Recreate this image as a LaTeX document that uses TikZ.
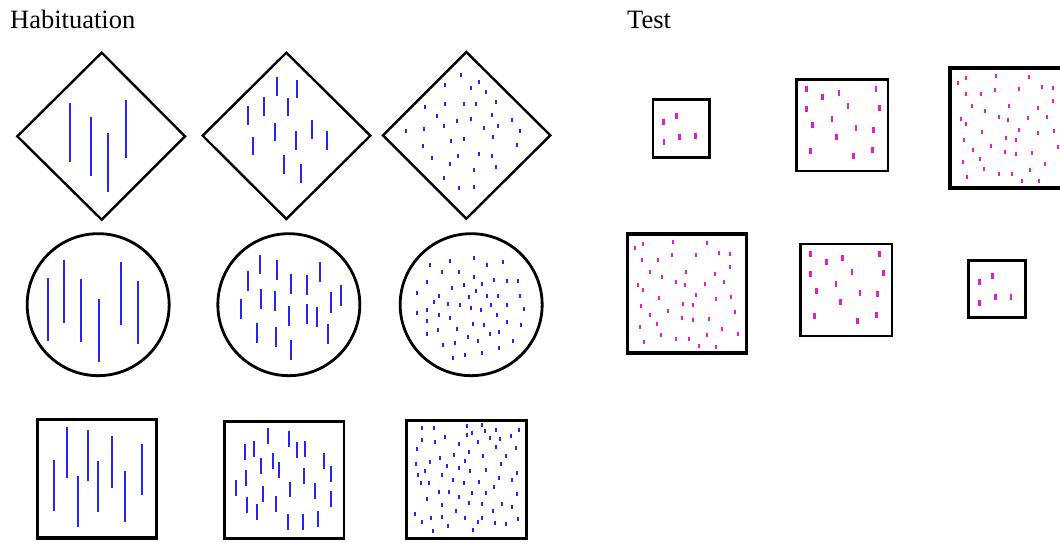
\documentclass[tikz,border=0pt]{standalone}
\usepackage{fontspec}
\setmainfont{Liberation Serif}
\definecolor{hblue}{RGB}{35,35,250}
\definecolor{tmag}{RGB}{225,30,205}
\begin{document}
\begin{tikzpicture}[x=1pt,y=-1pt,
  frame/.style={draw=black,line width=2.4pt,line join=miter},
  hl/.style={draw=hblue,line width=2.1pt},
  hd/.style={draw=hblue,line width=2.3pt},
  tmb/.style={draw=tmag,line width=2.8pt},
  tms/.style={draw=tmag,line width=2pt},
  zoomed/.style={x=0.33333pt,y=-0.33333pt}]
\useasboundingbox (0,0) rectangle (1060,541);
\clip (0,0) rectangle (1060,541);
\fill[white] (0,0) rectangle (1060,541);
\node[anchor=base west,inner sep=0pt,font=\fontsize{26.5}{30}\selectfont] (hab) at (10,28) {Habituation};
\node[anchor=base west,inner sep=0pt,font=\fontsize{26.5}{30}\selectfont] (tst) at (627,28) {Test};
% ---------- Diamond 1
\begin{scope}[shift={(10,48)},zoomed]
\draw[frame] (275,14) -- (525,265) -- (275,515) -- (22,265) -- cycle;
\foreach \x/\a/\b in {180/165/343,243/208/385,293/256/433,347/155/331}
  \draw[hl] (\x,\a) -- (\x,\b);
\end{scope}
% ---------- Diamond 2
\begin{scope}[shift={(198,48)},zoomed]
\draw[frame] (265,14) -- (517,263) -- (265,513) -- (14,263) -- cycle;
\foreach \x/\a/\b in {237/88/143,297/95/150,198/148/203,270/150/205,150/175/230,231/225/280,341/217/272,293/250/305,388/250/305,165/266/322,258/322/378,310/348/404}
  \draw[hl] (\x,\a) -- (\x,\b);
\end{scope}
% ---------- Diamond 3
\begin{scope}[shift={(378,48)},zoomed]
\draw[frame] (265,12) -- (517,262) -- (265,512) -- (15,262) -- cycle;
\foreach \x/\y in {248/82,202/110,303/102,278/121,324/133,141/178,200/169,258/169,294/168,354/163,176/204,237/219,280/213,342/202,401/217,83/249,139/243,199/234,318/239,361/235,427/250,218/278,259/273,345/268,135/293,418/290,163/331,241/325,303/318,342/323,216/348,289/366,355/357,199/391,243/420,289/417}
  \draw[hd] (\x,\y-6) -- (\x,\y+6);
\end{scope}
% ---------- Circle 1
\begin{scope}[shift={(22,228)},zoomed]
\draw[frame,line width=2.8pt] (228.5,230) circle[radius=71pt];
\foreach \x/\a/\b in {77/150/340,125/95/284,177/153/343,230/213/401,298/101/291,349/159/349}
  \draw[hl] (\x,\a) -- (\x,\b);
\end{scope}
% ---------- Circle 2
\begin{scope}[shift={(212,228)},zoomed]
\draw[frame,line width=2.8pt] (230.5,230) circle[radius=71pt];
\foreach \x/\a/\b in {145/80/138,195/97/157,108/128/188,238/138/198,284/140/200,323/101/162,148/182/243,190/190/250,387/172/233,358/193/254,86/214/274,232/235/295,285/227/287,315/238/298,135/285/345,191/297/357,348/289/349,238/336/396}
  \draw[hl] (\x,\a) -- (\x,\b);
\end{scope}
% ---------- Circle 3
\begin{scope}[shift={(395,228)},zoomed]
\draw[frame,line width=2.8pt] (228.5,230) circle[radius=71pt];
\foreach \x/\y in {106/111,166/98,238/89,276/110,323/103,140/133,191/131,96/162,238/147,296/157,335/160,369/160,171/180,208/170,262/169,65/194,242/190,132/204,222/207,275/205,308/205,376/204,116/221,159/229,196/231,289/230,336/230,65/254,96/247,229/241,257/246,388/244,133/260,166/271,305/262,96/278,234/287,268/290,335/282,379/290,130/307,187/304,313/311,95/318,218/327,285/319,355/340,145/352,179/345,250/339,311/360,209/380,260/375,174/391}
  \draw[hd] (\x,\y-6) -- (\x,\y+6);
\end{scope}
% ---------- Square 1
\begin{scope}[shift={(28,412)},zoomed]
\draw[frame,line width=3.2pt] (28,22) rectangle (385,378);
\foreach \x/\a/\b in {78/145/298,117/45/198,151/192/345,181/54/208,210/148/301,253/73/227,292/178/331,342/95/248}
  \draw[hl] (\x,\a) -- (\x,\b);
\end{scope}
% ---------- Square 2
\begin{scope}[shift={(218,412)},zoomed]
\draw[frame,line width=2.8pt] (20,28) rectangle (378,380);
\foreach \x/\a/\b in {150/49/97,213/56/104,82/97/145,107/88/136,238/89/137,262/87/135,129/137/185,165/123/170,183/151/198,319/124/172,338/162/210,85/173/221,258/169/217,53/203/251,134/222/270,216/209/256,290/214/262,338/238/286,87/255/302,117/277/324,175/253/300,210/307/354,256/307/354,300/297/345}
  \draw[hl] (\x,\a) -- (\x,\b);
\end{scope}
% ---------- Square 3
\begin{scope}[shift={(400,412)},zoomed]
\draw[frame,line width=3.2pt] (20,25) rectangle (380,380);
\foreach \x/\y in {65/49,102/47,200/43,245/40,256/57,289/54,357/53,66/83,135/74,104/89,201/69,217/64,270/79,300/81,334/71,235/90,178/96,52/111,288/105,347/108,208/120,162/129,120/137,250/131,317/132,48/155,91/151,196/146,142/161,303/156,76/176,54/188,127/188,178/169,211/178,257/174,351/182,62/213,88/214,160/204,191/212,236/209,298/199,337/205,283/224,117/240,148/240,215/242,259/243,350/245,82/261,176/256,208/273,245/277,305/277,127/279,167/297,279/297,337/285,44/305,92/318,127/314,195/318,247/318,354/322,67/330,235/330,285/334,319/336,143/341,98/358,218/355}
  \draw[hd] (\x,\y-6) -- (\x,\y+6);
\end{scope}
% ---------- Test, top row
\begin{scope}[shift={(645,62)},zoomed]
\draw[frame,line width=2.8pt] (24,113) rectangle (194,286);
\foreach \x/\y in {56/180,95/162,57/241,104/224,152/223}
  \draw[tmb] (\x,\y-9) -- (\x,\y+9);
\draw[frame,line width=2.8pt] (455,52) rectangle (729,327);
\foreach \x/\y in {484/80,532/105,582/93,693/80,484/142,609/133,704/138,561/171,502/190,633/197,686/203,574/226,497/268,626/282,682/264}
  \draw[tmb] (\x,\y-9) -- (\x,\y+9);
\end{scope}
\begin{scope}[shift={(940,62)},zoomed]
\draw[frame,line width=3.2pt] (30,18) rectangle (400,378);
\foreach \x/\y in {53/62,78/49,168/43,268/45,77/97,124/97,166/83,238/81,306/76,340/79,97/133,135/147,207/133,293/139,340/117,63/172,79/187,176/164,205/173,264/167,320/165,125/211,237/203,295/214,342/208,72/234,198/229,229/233,153/251,355/255,99/263,195/270,229/276,277/273,69/299,120/291,314/305,133/322,177/336,216/336,271/323,81/346,247/356,296/358}
  \draw[tms] (\x,\y-6) -- (\x,\y+6);
\end{scope}
% ---------- Test, bottom row
\begin{scope}[shift={(620,228)},zoomed]
\draw[frame,line width=3.2pt] (22,18) rectangle (380,375);
\foreach \x/\y in {44/60,69/48,159/42,260/44,67/96,115/95,157/82,229/80,297/74,331/79,89/131,126/146,198/133,285/138,331/116,54/172,70/186,168/163,196/172,254/167,312/163,116/210,228/202,287/213,333/207,63/233,189/229,220/232,144/250,346/253,91/262,186/269,220/275,268/272,60/296,111/289,305/303,124/320,168/333,208/333,262/320,355/318,72/343,238/354,288/356}
  \draw[tms] (\x,\y-6) -- (\x,\y+6);
\draw[frame,line width=2.8pt] (541,48) rectangle (816,324);
\foreach \x/\y in {571/78,619/103,668/90,779/77,571/139,696/131,790/135,648/167,589/188,720/194,773/199,661/223,583/265,713/279,769/262}
  \draw[tmb] (\x,\y-9) -- (\x,\y+9);
\draw[frame,line width=2.8pt] (1046,97) rectangle (1217,268);
\foreach \x/\y in {1078/163,1117/145,1079/225,1126/208,1173/206}
  \draw[tmb] (\x,\y-9) -- (\x,\y+9);
\end{scope}
\end{tikzpicture}
\end{document}
